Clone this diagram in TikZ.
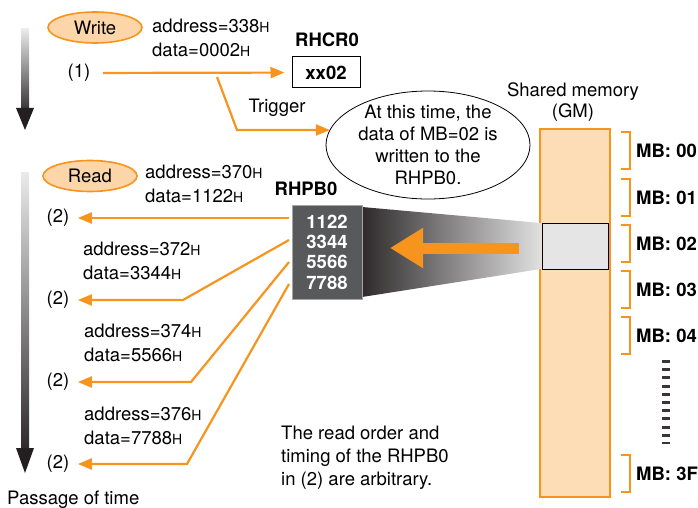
\documentclass[tikz,border=0pt]{standalone}
\usepackage{fontspec}
\setmainfont{TeX Gyre Heros}
\usetikzlibrary{arrows.meta, shapes.geometric}
\definecolor{accentOrange}{HTML}{F7941D}
\definecolor{ovalFill}{HTML}{FCD5A8}
\definecolor{memFill}{HTML}{FDDDB6}
\definecolor{bufGray}{HTML}{58595B}
\definecolor{inkDark}{HTML}{231F20}
\newcommand{\hsub}{{\fontsize{14}{14}\selectfont H}}

\begin{document}
\begin{tikzpicture}[x=1pt, y=-1pt,
    font=\fontsize{18.5}{24}\selectfont,
    oval/.style={ellipse, draw=accentOrange, fill=ovalFill, line width=1.6pt,
        minimum width=94pt, minimum height=31pt, inner sep=0pt},
    info/.style={anchor=west, align=left, inner sep=0pt},
    feed/.style={accentOrange, line width=2.2pt, -{Triangle[length=14pt, width=11pt]}},
    mblabel/.style={anchor=west, inner sep=0pt, font=\fontsize{18.5}{20}\selectfont\bfseries}]
    \useasboundingbox (0,0) rectangle (698,508);

    % passage of time
    \shade[top color=black!8, bottom color=inkDark!90] (21,29) rectangle (29,109);
    \fill[inkDark] (16,108) -- (34,108) -- (25,130) -- cycle;
    \shade[top color=black!8, bottom color=inkDark!95] (21,172) rectangle (29,449);
    \fill[inkDark] (16,448) -- (34,448) -- (25,473) -- cycle;
    \node[anchor=west, inner sep=0pt] (passage) at (7,500) {Passage of time};

    % write
    \node[oval] (write) at (95,27.5) {Write};
    \node[info] (waddr) at (152,38) {address=338\hsub\\data=0002\hsub};
    \node (one) at (79,73) {(1)};
    \node[font=\fontsize{18.5}{20}\selectfont\bfseries] (rhcrlbl) at (327,40) {RHCR0};
    \node[draw, line width=1pt, minimum width=68pt, minimum height=31pt,
        font=\fontsize{18.5}{20}\selectfont\bfseries] (rhcr) at (326,72.5) {xx02};
    \draw[feed, shorten <=9pt, shorten >=7pt] (one) -- (rhcr);

    % trigger
    \node[ellipse, draw, line width=0.8pt, minimum width=204pt, minimum height=108pt,
        align=center, inner xsep=0pt, inner ysep=-7pt,
        font=\fontsize{18.5}{22}\selectfont] (callout) at (428,145)
        {At this time, the\\data of MB=02 is\\written to the\\RHPB0.};
    \coordinate (trig) at (217,77);
    \draw[feed] (trig) -- (237,130) -- (237,130 -| callout.171);
    \node (triglbl) at (277,108) {Trigger};

    % shared memory
    \node[align=center, font=\fontsize{18.5}{21}\selectfont] (gmlbl) at (573,102) {Shared memory\\(GM)};
    \draw[accentOrange, fill=memFill, line width=2pt] (540,129) rectangle (610,497);
    \shade[left color=inkDark!95, right color=black!12]
        (362,207) -- (541,223) -- (541,269) -- (362,297) -- cycle;
    \draw[fill=black!10, line width=1pt] (542,223) rectangle (608,269);
    \foreach \y/\mb in {132/00, 179/01, 225/02, 271/03, 317/04, 455/3F} {
        \draw[accentOrange, line width=2pt] (621,\y) -- (630,\y) -- (630,\y+37) -- (621,\y+37);
        \node[mblabel] (mb\mb) at (636,\y+18.5) {MB: \mb};
    }
    \draw[inkDark!90, line width=8pt, dash pattern=on 3pt off 5.2pt] (666,360) -- (666,444);

    % read buffer
    \node[font=\fontsize{18.5}{20}\selectfont\bfseries] (rhpblbl) at (306,189) {RHPB0};
    \node[draw=gray!70, fill=bufGray, line width=1pt, minimum width=70pt, minimum height=94pt,
        text=white, align=left, font=\fontsize{18.5}{20.3}\selectfont\bfseries] (rhpb) at (327,252)
        {1122\\3344\\5566\\7788};
    \coordinate (gmtail) at (519,248);
    \coordinate (gmhead) at (390,248);
    \draw[accentOrange, line width=11pt, -{Triangle[length=33pt, width=38pt]}] (gmtail) -- (gmhead);

    % read
    \node[oval] (read) at (90,176) {Read};
    \node[info] (raddr1) at (145,183.5) {address=370\hsub\\data=1122\hsub};
    \node[info] (raddr2) at (83,260.5) {address=372\hsub\\data=3344\hsub};
    \node[info] (raddr3) at (84,342.5) {address=374\hsub\\data=5566\hsub};
    \node[info] (raddr4) at (84,425.5) {address=376\hsub\\data=7788\hsub};
    \node (p1) at (58,218) {(2)};
    \node (p2) at (58,300) {(2)};
    \node (p3) at (58,382) {(2)};
    \node (p4) at (58,464) {(2)};
    \coordinate (r1) at (289,218);
    \coordinate (r2) at (289,240);
    \coordinate (r3) at (289,262);
    \coordinate (r4) at (289,284);
    \draw[feed, shorten >=5pt] (r1) -- (p1);
    \draw[feed, shorten >=5pt] (r2) -- (183,300) -- (p2);
    \draw[feed, shorten >=5pt] (r3) -- (191,382) -- (p3);
    \draw[feed, shorten >=5pt] (r4) -- (187,464) -- (p4);

    \node[info, font=\fontsize{18.5}{23}\selectfont] (note) at (281,458)
        {The read order and\\timing of the RHPB0\\in (2) are arbitrary.};
\end{tikzpicture}
\end{document}
